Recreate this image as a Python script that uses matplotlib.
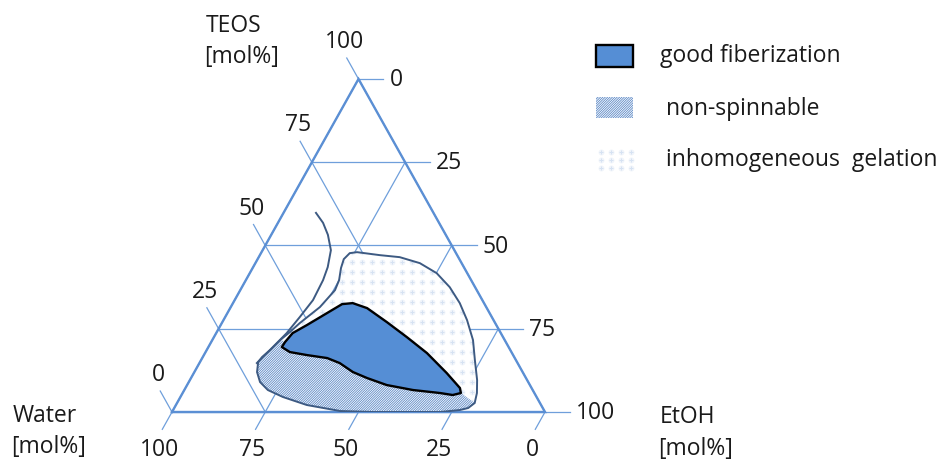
import numpy as np
import matplotlib.pyplot as plt
from matplotlib.patches import Polygon, Rectangle

plt.rcParams['font.family'] = ['Open Sans', 'DejaVu Sans']
plt.rcParams['hatch.linewidth'] = 0.6

W, H = 948, 461

# region outlines, TEOS / EtOH in mol%
good_teos = [19.5, 21.0, 23.7, 26.1, 29.7, 32.4, 32.7, 31.2, 27.0, 22.5, 17.7, 11.7,
             7.2, 5.7, 5.1, 5.7, 6.6, 8.1, 10.2, 12.0, 14.7, 16.2, 17.1, 18.0]
good_etoh = [19.7, 19.8, 20.5, 23.1, 26.7, 29.4, 32.1, 36.7, 44.1, 51.7, 59.5, 67.8,
             73.6, 74.6, 72.7, 69.0, 61.3, 53.5, 47.2, 42.5, 37.6, 33.5, 27.6, 22.6]

outer_teos = [48.0, 47.1, 46.5, 44.7, 41.7, 37.5, 32.7, 27.6, 21.6, 15.6, 9.6, 5.7,
              2.7, 1.2, 0.6, 0.0, 0.0, 0.0, 0.3, 2.1, 4.5, 6.6, 9.0, 12.0, 15.0, 16.5,
              18.6, 21.6, 24.0, 26.7, 29.1, 31.5, 34.2, 36.6, 39.6, 43.2, 45.9, 47.7]
outer_etoh = [25.6, 32.2, 37.8, 44.1, 50.1, 55.7, 60.8, 65.3, 69.9, 73.4, 77.0, 78.9,
              79.8, 78.8, 76.9, 71.9, 63.0, 53.9, 44.9, 35.1, 27.5, 22.4, 19.1, 16.8, 15.6, 15.9,
              17.0, 18.2, 19.6, 20.9, 22.4, 23.9, 24.7, 25.4, 25.0, 23.7, 23.1, 23.8]

curve_teos = [59.8, 56.8, 53.2, 48.6, 43.5, 39.6, 33.6, 28.5, 23.7, 19.5, 14.7]
curve_etoh = [8.7, 12.1, 15.2, 18.3, 20.0, 20.7, 21.0, 20.0, 18.9, 17.3, 15.4]

levels = [0, 25, 50, 75, 100]
legend_labels = ['good fiberization', 'non-spinnable', 'inhomogeneous  gelation']

EDGE = '#5b8fd4'
GRID = '#6f9fdb'
BLUE = '#558ed5'
OUTLINE = '#3d5a82'
HATCH = '#5b88c6'
DOT_BG = '#f0f4fa'
DOT_FG = '#d6e2f2'
TXT = '#1a1a1a'
FS = 16.5


def tern(teos, etoh):
    t = np.asarray(teos, dtype=float) / 100
    e = np.asarray(etoh, dtype=float) / 100
    return e + t / 2, t


fig = plt.figure(figsize=(W / 100, H / 100), dpi=100)
ax = fig.add_axes([172 / W, (H - 412) / H, 373 / W, 333 / H])
ax.set_xlim(0, 1)
ax.set_ylim(0, 1)
ax.axis('off')

# grid lines and ticks
for lv in levels:
    v = lv / 100
    # constant TEOS (horizontal), tick to the right
    ax.plot([v / 2, 1 - v / 2 + 0.067], [v, v], color=GRID, lw=0.9, clip_on=False)
    # parallel to right edge, tick up-left
    ax.plot([v / 2 - 0.5 * 0.063, v], [v + 0.063, 0], color=GRID, lw=0.9, clip_on=False)
    # parallel to left edge, tick down-left
    ax.plot([v - 0.5 * 0.052, v + (1 - v) / 2], [-0.052, 1 - v], color=GRID, lw=0.9,
            clip_on=False)
    ax.annotate(str(lv), (v / 2 - 0.5 * 0.063, v + 0.063), xytext=(-2, 4),
                textcoords='offset pixels', ha='center', va='bottom', fontsize=FS,
                color=TXT, annotation_clip=False)
    ax.annotate(str(100 - lv), (1 - v / 2 + 0.067, v), xytext=(6, 2),
                textcoords='offset pixels', ha='left', va='center_baseline', fontsize=FS,
                color=TXT, annotation_clip=False)
    ax.annotate(str(100 - lv), (v - 0.5 * 0.052, -0.052), xytext=(-3, -27),
                textcoords='offset pixels', ha='center', va='baseline', fontsize=FS,
                color=TXT, annotation_clip=False)

# triangle
ax.plot([0, 1, 0.5, 0], [0, 0, 1, 0], color=EDGE, lw=1.7, clip_on=False,
        solid_joinstyle='miter')

# inhomogeneous gelation (dotted)
ox, oy = tern(outer_teos, outer_etoh)
outer = Polygon(np.column_stack([ox, oy]), closed=True, facecolor='white',
                edgecolor='none', zorder=3)
ax.add_patch(outer)
gx, gy = np.meshgrid(np.arange(0, 1, 10 / 373), np.arange(0, 1, 10 / 333))
d1 = ax.scatter(gx.ravel(), gy.ravel(), s=18, marker='o', color=DOT_BG, lw=0, zorder=3.1)
d2 = ax.scatter(gx.ravel(), gy.ravel(), s=8, marker='+', color=DOT_FG, lw=0.7, zorder=3.2)
d1.set_clip_path(outer)
d2.set_clip_path(outer)

# non-spinnable (hatched): lower part of the outer region
hat_idx = list(range(27, 11, -1))
h_teos = [outer_teos[i] for i in hat_idx] + good_teos[13:] + good_teos[:2]
h_etoh = [outer_etoh[i] for i in hat_idx] + good_etoh[13:] + good_etoh[:2]
hx, hy = tern(h_teos, h_etoh)
ax.add_patch(Polygon(np.column_stack([hx, hy]), closed=True, facecolor='white',
                     edgecolor=HATCH, lw=0, hatch='/' * 14, zorder=4))

ax.add_patch(Polygon(np.column_stack([ox, oy]), closed=True, facecolor='none',
                     edgecolor=OUTLINE, lw=1.4, zorder=5))

# good fiberization
bx, by = tern(good_teos, good_etoh)
ax.add_patch(Polygon(np.column_stack([bx, by]), closed=True, facecolor=BLUE,
                     edgecolor='black', lw=1.7, joinstyle='round', zorder=6))

cx, cy = tern(curve_teos, curve_etoh)
ax.plot(cx, cy, color=OUTLINE, lw=1.4, zorder=7)

# overlay in pixel units for titles and legend
ov = fig.add_axes([0, 0, 1, 1])
ov.set_xlim(0, W)
ov.set_ylim(H, 0)
ov.axis('off')

for txt, x, y in [('TEOS', 206, 32), ('[mol%]', 204, 63), ('Water', 13, 422),
                  ('[mol%]', 11, 453), ('EtOH', 660, 423), ('[mol%]', 658, 455)]:
    ov.text(x, y, txt, fontsize=FS, color=TXT, ha='left', va='baseline')

ov.add_patch(Rectangle((596, 45), 37, 22, facecolor=BLUE, edgecolor='black', lw=1.7))
ov.add_patch(Rectangle((596, 97), 37, 21, facecolor='white', edgecolor=HATCH, lw=0,
                       hatch='/' * 14))
lx, ly = np.meshgrid(np.arange(601, 633, 10), np.arange(152, 170, 8))
ov.scatter(lx.ravel(), ly.ravel(), s=18, marker='o', color=DOT_BG, lw=0)
ov.scatter(lx.ravel(), ly.ravel(), s=8, marker='+', color=DOT_FG, lw=0.7)

for txt, x, y in zip(legend_labels, [660, 666, 666], [56, 109, 160]):
    ov.text(x, y, txt, fontsize=FS, color=TXT, ha='left', va='center')

fig.savefig('out.png', dpi=100)
